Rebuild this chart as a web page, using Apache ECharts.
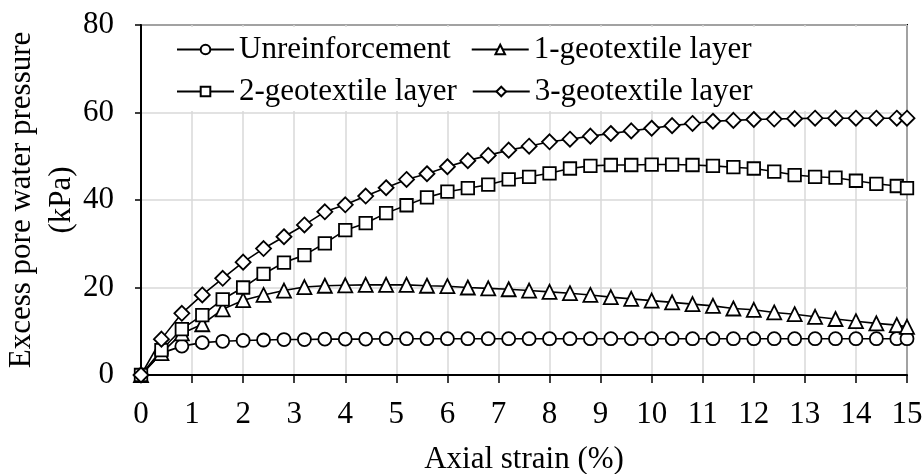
<!DOCTYPE html>
<html>
<head>
<meta charset="utf-8">
<script src="https://cdn.jsdelivr.net/npm/echarts@6/dist/echarts.min.js"></script>
<style>html,body{margin:0;padding:0;background:#fff}#chart{width:924px;height:474px}</style>
</head>
<body>
<div id="chart"></div>
<script>
const strain = [0,0.4,0.8,1.2,1.6,2,2.4,2.8,3.2,3.6,4,4.4,4.8,5.2,5.6,6,6.4,6.8,7.2,7.6,8,8.4,8.8,9.2,9.6,10,10.4,10.8,11.2,11.6,12,12.4,12.8,13.2,13.6,14,14.4,14.8,15];
const unreinforced = [0,5.0,6.6,7.4,7.7,7.9,8.0,8.1,8.1,8.2,8.2,8.2,8.3,8.3,8.3,8.3,8.3,8.3,8.3,8.3,8.3,8.3,8.3,8.3,8.3,8.3,8.3,8.3,8.3,8.3,8.3,8.3,8.3,8.3,8.3,8.3,8.3,8.3,8.3];
const geo1 = [0,5.0,9.5,11.6,15.0,17.1,18.3,19.3,20.1,20.4,20.5,20.6,20.6,20.6,20.4,20.3,20.0,19.8,19.6,19.3,19.0,18.7,18.3,17.8,17.4,17.0,16.6,16.2,15.8,15.2,14.9,14.3,13.9,13.3,12.8,12.3,11.8,11.4,11.0];
const geo2 = [0,5.7,10.5,13.7,17.3,20.0,23.1,25.7,27.4,30.1,33.1,34.7,37.0,38.8,40.6,41.9,42.7,43.5,44.7,45.3,46.1,47.2,47.8,48.0,48.0,48.1,48.1,48.0,47.8,47.5,47.2,46.5,45.7,45.3,45.1,44.4,43.7,43.2,42.7];
const geo3 = [0,8.2,14.1,18.3,22.1,25.8,28.9,31.6,34.3,37.3,38.9,40.9,42.8,44.7,46.0,47.6,49.0,50.2,51.4,52.3,53.3,53.9,54.6,55.2,55.8,56.4,57.0,57.5,58.0,58.2,58.4,58.5,58.6,58.7,58.7,58.7,58.7,58.7,58.7];
const seriesNames = ['Unreinforcement','1-geotextile layer','2-geotextile layer','3-geotextile layer'];
const xAxisName = 'Axial strain (%)';
const yAxisName = 'Excess pore water pressure\n(kPa)';

const FONT = 'Liberation Serif';
const chart = echarts.init(document.getElementById('chart'), null, {renderer:'canvas'});
function mk(name, vals, symbol, size){
  return {
    name, type:'line', data: strain.map((x,i)=>[x, vals[i]]),
    symbol, symbolSize:size, showSymbol:true,
    lineStyle:{color:'#000', width:1.6},
    itemStyle:{color:'#fff', borderColor:'#000', borderWidth:1.8},
    emphasis:{disabled:true}, z:3
  };
}
const legendBase = {
  orient:'horizontal', padding:0, itemWidth:57, itemHeight:12,
  textStyle:{fontFamily:FONT, fontSize:31, color:'#000', lineHeight:31},
  selectedMode:false, z:10
};
chart.setOption({
  animation:false,
  backgroundColor:'#fff',
  grid:{left:141, right:17, top:25, bottom:99, containLabel:false, outerBoundsMode:'none',
        show:true, borderColor:'#000', borderWidth:2, backgroundColor:'transparent'},
  graphic:[{type:'rect', shape:{x:143, y:27, width:762, height:84}, style:{fill:'#fff'}, z:1, silent:true}],
  legend:[
    Object.assign({}, legendBase, {left:176, top:34, itemGap:20, data:[seriesNames[0], seriesNames[1]]}),
    Object.assign({}, legendBase, {left:176, top:76, itemGap:15, data:[seriesNames[2], seriesNames[3]]})
  ],
  xAxis:{
    type:'value', min:0, max:15, interval:1,
    name:xAxisName, nameLocation:'middle', nameGap:69, nameMoveOverlap:false,
    nameTextStyle:{fontFamily:FONT, fontSize:31, color:'#000'},
    axisLine:{show:true, onZero:false, lineStyle:{color:'#000', width:2}},
    axisTick:{show:true, inside:false, length:8, lineStyle:{color:'#000', width:1.5}},
    axisLabel:{fontFamily:FONT, fontSize:31, color:'#000', margin:24},
    splitLine:{show:true, lineStyle:{color:'#d9d9d9', width:1.5}}
  },
  yAxis:{
    type:'value', min:0, max:80, interval:20,
    name:yAxisName, nameLocation:'middle', nameGap:59, nameRotate:90, nameMoveOverlap:false,
    nameTextStyle:{fontFamily:FONT, fontSize:31, color:'#000', lineHeight:40, align:'center'},
    axisLine:{show:true, onZero:false, lineStyle:{color:'#000', width:2}},
    axisTick:{show:true, inside:false, length:6, lineStyle:{color:'#000', width:1.5}},
    axisLabel:{fontFamily:FONT, fontSize:31, color:'#000', margin:27},
    splitLine:{show:true, lineStyle:{color:'#d9d9d9', width:1.5}}
  },
  series:[
    mk(seriesNames[0], unreinforced, 'circle', 13),
    mk(seriesNames[1], geo1, 'triangle', 14),
    mk(seriesNames[2], geo2, 'rect', 12.5),
    mk(seriesNames[3], geo3, 'diamond', 15)
  ]
});
</script>
</body>
</html>
